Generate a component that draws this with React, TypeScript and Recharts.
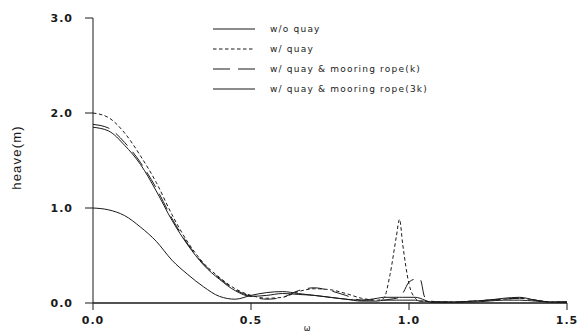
import { LineChart, Line, XAxis, YAxis, Legend } from "recharts";

// frequency grid (denser around the resonance near 1.0)
const omega = [
  0, 0.05, 0.1, 0.15, 0.2, 0.25, 0.3, 0.35, 0.4, 0.45, 0.5, 0.55, 0.6, 0.65, 0.7, 0.75, 0.8, 0.85, 0.9,
  0.92, 0.94, 0.96, 0.97, 0.98, 1.0, 1.02, 1.035, 1.05, 1.07, 1.1, 1.15, 1.2, 1.25, 1.3, 1.35, 1.4, 1.45, 1.5,
];

const woQuay = [
  1.0, 0.98, 0.92, 0.8, 0.65, 0.45, 0.3, 0.17, 0.07, 0.04, 0.08, 0.11, 0.12, 0.1, 0.08, 0.06, 0.04, 0.02, 0.02,
  0.03, 0.03, 0.03, 0.03, 0.03, 0.03, 0.03, 0.02, 0.02, 0.01, 0.01, 0.01, 0.01, 0.02, 0.03, 0.03, 0.02, 0.01, 0.01,
];

const wQuay = [
  2.0, 1.95, 1.79, 1.55, 1.27, 0.93, 0.64, 0.42, 0.27, 0.15, 0.08, 0.05, 0.06, 0.12, 0.15, 0.14, 0.1, 0.05, 0.03,
  0.05, 0.3, 0.7, 0.88, 0.62, 0.2, 0.05, 0.02, 0.02, 0.01, 0.01, 0.01, 0.02, 0.03, 0.04, 0.05, 0.03, 0.01, 0.01,
];

const mooringK = [
  1.88, 1.84, 1.69, 1.48, 1.21, 0.89, 0.62, 0.41, 0.26, 0.14, 0.07, 0.04, 0.06, 0.13, 0.16, 0.13, 0.08, 0.03, 0.03,
  0.03, 0.04, 0.05, 0.06, 0.1, 0.22, 0.25, 0.25, 0.06, 0.02, 0.01, 0.01, 0.02, 0.03, 0.04, 0.05, 0.03, 0.01, 0.01,
];

const mooring3k = [
  1.85, 1.81, 1.66, 1.46, 1.18, 0.87, 0.61, 0.4, 0.25, 0.13, 0.07, 0.08, 0.1, 0.09, 0.08, 0.06, 0.04, 0.03, 0.05,
  0.06, 0.06, 0.06, 0.06, 0.06, 0.06, 0.06, 0.05, 0.03, 0.01, 0.01, 0.01, 0.02, 0.03, 0.05, 0.06, 0.03, 0.01, 0.01,
];

const xTicks = [0, 0.5, 1.0, 1.5];
const yTicks = [0, 1, 2, 3];

const series = [
  { key: "woQuay", name: "w/o quay", values: woQuay, dash: undefined },
  { key: "wQuay", name: "w/ quay", values: wQuay, dash: "3.5 2.5" },
  { key: "mooringK", name: "w/ quay & mooring rope(k)", values: mooringK, dash: "17 8" },
  { key: "mooring3k", name: "w/ quay & mooring rope(3k)", values: mooring3k, dash: undefined },
];

const data = omega.map((w, i) => {
  const row: Record<string, number> = { w };
  series.forEach((s) => (row[s.key] = s.values[i]));
  return row;
});

const ink = "#1a1a1a";
const tickStyle = { fill: ink, fontSize: 11, fontWeight: "bold", fontFamily: "DejaVu Sans", letterSpacing: 1 };

function LegendBox() {
  return (
    <div style={{ fontFamily: "DejaVu Sans", fontSize: 9, color: ink, letterSpacing: 1.2 }}>
      {series.map((s) => (
        <div key={s.key} style={{ display: "flex", alignItems: "center", height: 20 }}>
          <svg width={42} height={6}>
            <line x1={0} y1={3} x2={42} y2={3} stroke={ink} strokeWidth={1.2} strokeDasharray={s.dash} />
          </svg>
          <span style={{ marginLeft: 15, whiteSpace: "nowrap" }}>{s.name}</span>
        </div>
      ))}
    </div>
  );
}

export default function App() {
  return (
    <div style={{ position: "absolute", left: 0, top: 0, width: 580, height: 336, background: "#fff" }}>
      <LineChart width={580} height={336} data={data} margin={{ top: 18, right: 13, left: 0, bottom: 0 }}>
        <XAxis
          dataKey="w"
          type="number"
          domain={[0, 1.5]}
          ticks={xTicks}
          tickFormatter={(v: number) => v.toFixed(1)}
          height={33}
          tickSize={7}
          tickMargin={6}
          stroke={ink}
          axisLine={{ stroke: ink, strokeWidth: 1.5 }}
          tick={tickStyle}
          label={({ viewBox }: any) => (
            <text
              x={viewBox.x + viewBox.width / 2 - 23}
              y={331}
              textAnchor="middle"
              fontSize={8}
              fontFamily="DejaVu Sans"
              fill={ink}
            >
              ω
            </text>
          )}
        />
        <YAxis
          type="number"
          domain={[0, 3]}
          ticks={yTicks}
          tickFormatter={(v: number) => v.toFixed(1)}
          width={93}
          tickSize={8}
          tickMargin={12}
          stroke={ink}
          tick={tickStyle}
          label={({ viewBox }: any) => {
            const cy = viewBox.y + viewBox.height / 2 - 3;
            return (
              <text
                x={16}
                y={cy}
                transform={`rotate(-90, 16, ${cy})`}
                textAnchor="middle"
                dominantBaseline="central"
                fontSize={13}
                fontFamily="Liberation Sans"
                letterSpacing={1.2}
                fill={ink}
              >
                heave(m)
              </text>
            );
          }}
        />
        <Legend
          layout="horizontal"
          verticalAlign="middle"
          align="center"
          content={() => <LegendBox />}
          wrapperStyle={{ position: "absolute", left: 213, top: 19, width: 300 }}
        />
        {series.map((s) => (
          <Line
            key={s.key}
            name={s.name}
            dataKey={s.key}
            type="monotone"
            stroke={ink}
            strokeWidth={1}
            strokeDasharray={s.dash}
            dot={false}
            activeDot={false}
            isAnimationActive={false}
          />
        ))}
      </LineChart>
    </div>
  );
}
